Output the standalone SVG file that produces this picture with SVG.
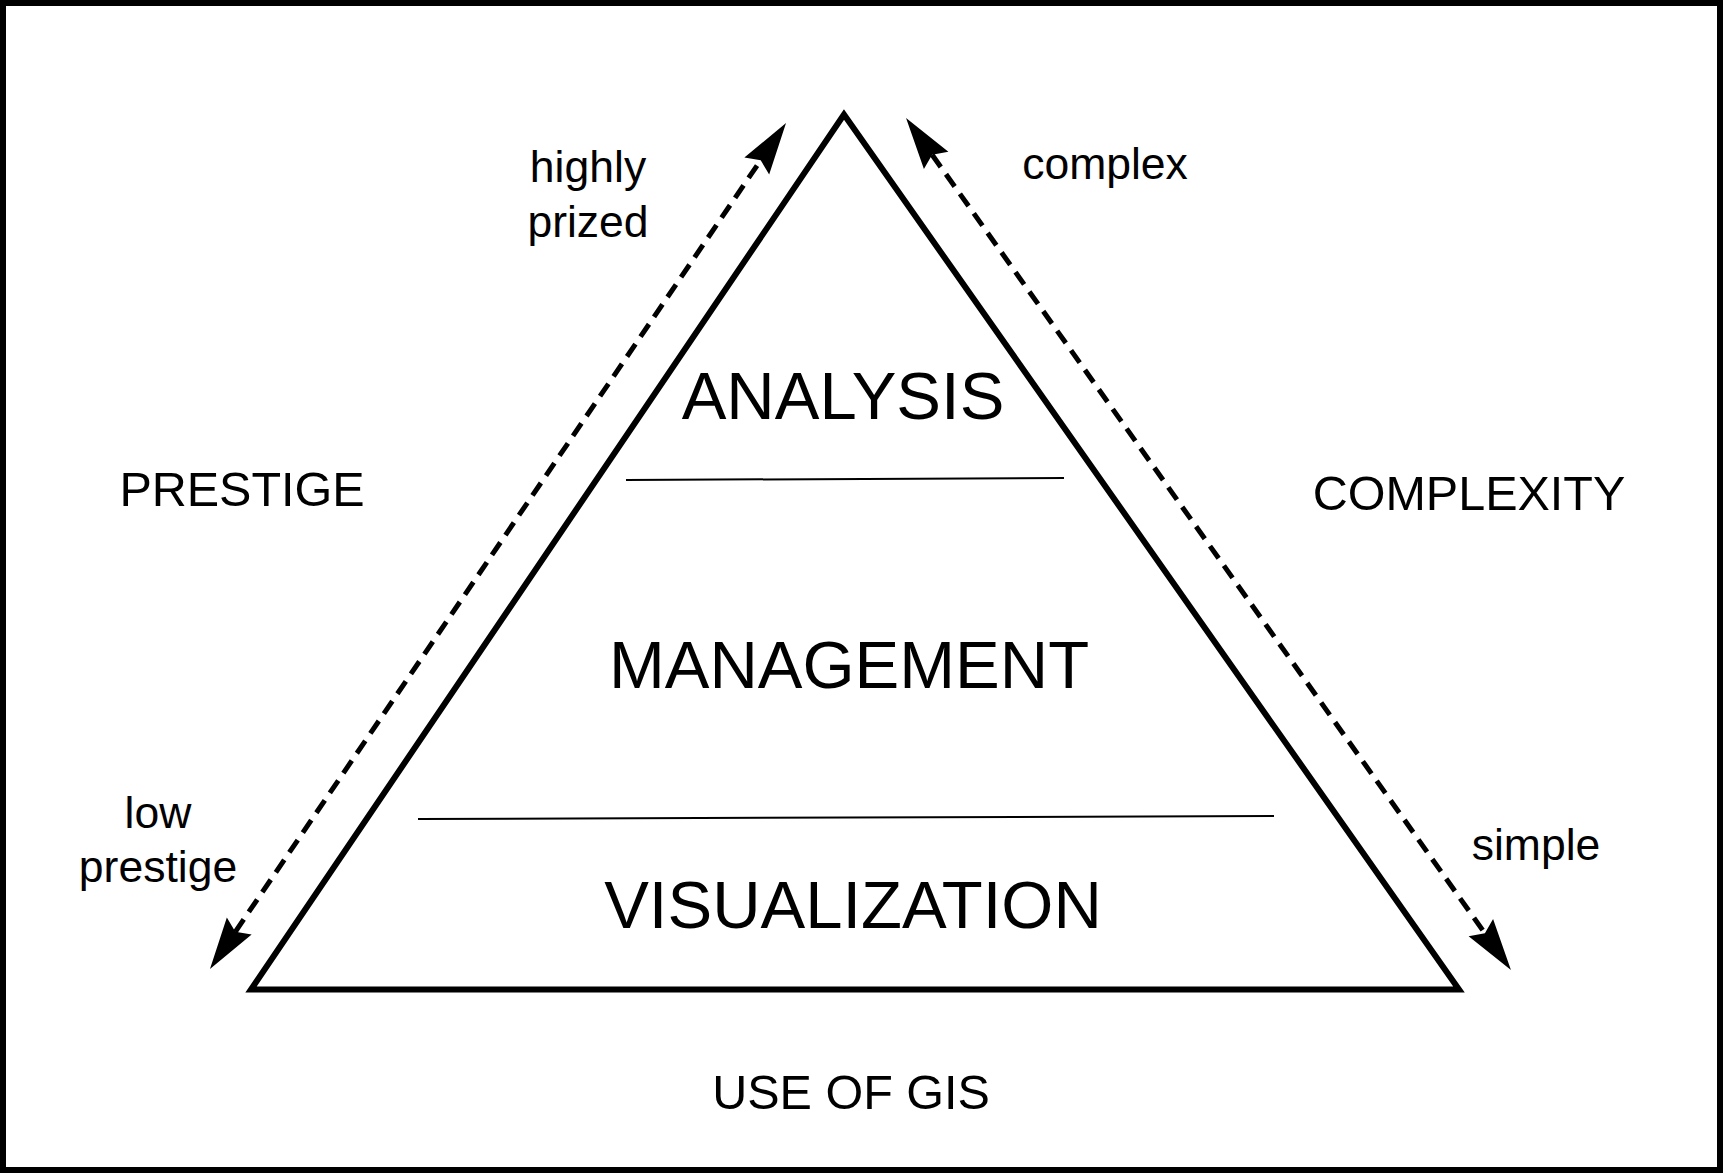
<svg xmlns="http://www.w3.org/2000/svg" width="1723" height="1173" viewBox="0 0 1723 1173">
<style>
text{font-family:"Liberation Sans",Arial,sans-serif;fill:#000;text-anchor:middle}
.big{font-size:67px}
.mid{font-size:48.5px}
.sm{font-size:44.5px}
.arrow{fill:none;stroke:#000;stroke-width:5;stroke-dasharray:15 9}
.div{stroke:#000;stroke-width:2}
</style>
<defs>
<marker id="ah" markerUnits="userSpaceOnUse" orient="auto-start-reverse" refX="0" refY="0" markerWidth="60" markerHeight="40" viewBox="-10 -20 60 40" overflow="visible">
<path d="M45,0 L-7,-15 L0,0 L-7,15 Z" fill="#000"/>
</marker>
</defs>
<rect x="3" y="3" width="1717" height="1167" fill="#fff" stroke="#000" stroke-width="6"/>
<g id="pyramid">
<polygon points="844,114.5 251,989.5 1459,989.5" fill="none" stroke="#000" stroke-width="6" stroke-linejoin="miter"/>
<line class="div" x1="626" y1="480" x2="1064" y2="478"/>
<line class="div" x1="418" y1="819" x2="1274" y2="816"/>
</g>
<g id="connectors">
<line class="arrow" x1="235.3" y1="931.8" x2="760.7" y2="160.2" marker-start="url(#ah)" marker-end="url(#ah)"/>
<line class="arrow" x1="932.1" y1="154.7" x2="1484.9" y2="933.3" marker-start="url(#ah)" marker-end="url(#ah)"/>
</g>
<g id="analysis"><text class="big" x="843" y="419">ANALYSIS</text></g>
<g id="management"><text class="big" x="849" y="688">MANAGEMENT</text></g>
<g id="visualization"><text class="big" x="853" y="928">VISUALIZATION</text></g>
<g id="prestige"><text class="mid" x="242" y="506">PRESTIGE</text></g>
<g id="complexity"><text class="mid" x="1469" y="510">COMPLEXITY</text></g>
<g id="use-of-gis"><text class="mid" x="851" y="1109">USE OF GIS</text></g>
<g id="highly-prized"><text class="sm" x="588" y="182">highly</text><text class="sm" x="588" y="237">prized</text></g>
<g id="complex"><text class="sm" x="1105" y="179">complex</text></g>
<g id="low-prestige"><text class="sm" x="158" y="828">low</text><text class="sm" x="158" y="882">prestige</text></g>
<g id="simple"><text class="sm" x="1536" y="860">simple</text></g>
</svg>
